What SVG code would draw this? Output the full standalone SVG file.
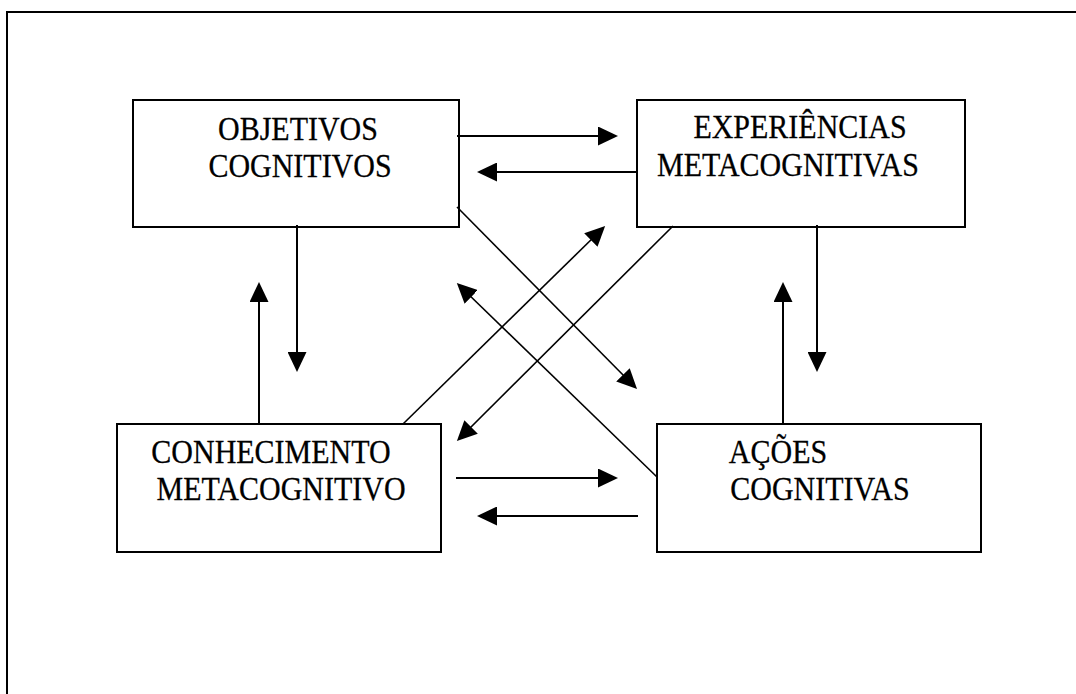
<svg xmlns="http://www.w3.org/2000/svg" width="1076" height="694" viewBox="0 0 1076 694">
  <style>
    .box { fill: #fff; stroke: #000; stroke-width: 2; }
    .lbl { font-family: "Liberation Serif", "Times New Roman", serif; font-size: 30px; fill: #000; text-anchor: middle; stroke: #000; stroke-width: 0.25; }
    .edge { fill: none; stroke: #000; stroke-width: 2; marker-end: url(#head); }
    .diag { stroke-width: 1.6; }
    .plain { fill: none; stroke: #000; stroke-width: 2; }
  </style>
  <defs>
    <marker id="head" viewBox="0 0 20 19" refX="10" refY="9.5" markerWidth="20" markerHeight="19" markerUnits="userSpaceOnUse" orient="auto">
      <path d="M0,0 L20,9.5 L0,19 z" fill="#000"/>
    </marker>
  </defs>
  <rect width="1076" height="694" fill="#fff"/>

  <!-- outer frame (open on right and bottom) -->
  <path class="plain" d="M7,694 L7,12 L1076,12"/>

  <g id="objetivos">
    <rect class="box" x="133" y="100" width="326" height="127"/>
    <text class="lbl" transform="translate(298,140) scale(1,1.1)">OBJETIVOS</text>
    <text class="lbl" transform="translate(300,177) scale(1,1.1)">COGNITIVOS</text>
  </g>
  <g id="experiencias">
    <rect class="box" x="637" y="100" width="328" height="127"/>
    <text class="lbl" transform="translate(800,138) scale(1,1.1)">EXPERIÊNCIAS</text>
    <text class="lbl" transform="translate(788,176) scale(1,1.1)">METACOGNITIVAS</text>
  </g>
  <g id="conhecimento">
    <rect class="box" x="117" y="424" width="324" height="128"/>
    <text class="lbl" transform="translate(271,463) scale(1,1.1)">CONHECIMENTO</text>
    <text class="lbl" transform="translate(281,500) scale(1,1.1)">METACOGNITIVO</text>
  </g>
  <g id="acoes">
    <rect class="box" x="657" y="424" width="324" height="128"/>
    <text class="lbl" transform="translate(778,463) scale(1,1.1)">AÇÕES</text>
    <text class="lbl" transform="translate(820,500) scale(1,1.1)">COGNITIVAS</text>
  </g>

  <g id="connectors">
    <!-- horizontal pairs -->
    <path class="edge" d="M457,136 L608,136"/>
    <path class="edge" d="M637,172 L487,172"/>
    <path class="edge" d="M456,478 L608,478"/>
    <path class="edge" d="M638,516 L487,516"/>
    <!-- vertical pairs -->
    <path class="edge" d="M297,225 L297,362"/>
    <path class="edge" d="M259,424 L259,292"/>
    <path class="edge" d="M817,225 L817,362"/>
    <path class="edge" d="M783,424 L783,292"/>
    <!-- diagonals -->
    <path class="edge diag" d="M457,207 L630,382"/>
    <path class="edge diag" d="M403,424 L598,233"/>
    <path class="edge diag" d="M673,226 L464,434"/>
    <path class="edge diag" d="M657,477 L464,290"/>
  </g>
</svg>
